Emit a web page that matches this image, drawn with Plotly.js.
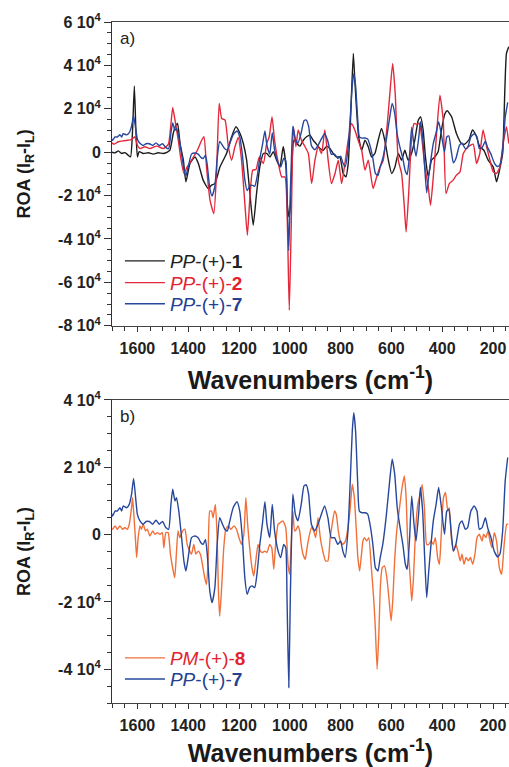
<!DOCTYPE html>
<html>
<head>
<meta charset="utf-8">
<script src="https://cdn.plot.ly/plotly-3.0.1.min.js"></script>
<style>html,body{margin:0;padding:0;background:#fff;}#chart{width:509px;height:767px;}</style>
</head>
<body>
<div id="chart"></div>
<script>
// ROA values in units of 10^4; wavenumbers in cm^-1
const pp1X = [1708,1688,1675,1662,1649,1636,1627,1619,1612,1606,1600,1593,1577,1557,1537,1518,1498,1482,1472,1459,1451,1442,1432,1419,1409,1393,1373,1360,1341,1321,1308,1295,1275,1249,1229,1212,1196,1183,1170,1157,1144,1131,1118,1104,1091,1078,1065,1052,1039,1026,1015,1009,1003,998,992,984,973,960,947,934,921,908,895,881,868,855,842,829,816,803,790,779,770,761,750,744,737,729,717,704,691,678,665,652,639,626,612,599,586,573,560,547,534,521,508,494,485,475,466,455,442,429,416,403,389,380,363,344,324,311,294,281,267,252,236,219,199,186,173,162,153,147,138];
const pp1Y = [0.02,-0.03,0.06,-0.06,-0.02,-0.14,-0.22,1.02,3.05,1.02,-0.22,0.02,-0.06,-0.03,-0.09,-0.03,-0.06,0,0.09,0.86,1.17,1.32,0.4,-0.37,-1.37,-0.52,-0.22,-0.52,-1.29,-1.68,-1.52,-1.45,-0.68,-0.06,0.71,1.17,0.86,0.4,-0.37,-1.91,-3.37,-1.91,-0.68,-0.06,-0.06,-0.22,0.02,-0.37,-0.68,0.25,-0.68,-2.52,-2.98,-2.52,-0.68,0.55,0.4,0.28,0.55,0.71,0.78,0.55,0.37,0.17,0.09,0.28,0.17,-0.06,-0.22,-0.22,-0.98,-1.14,-0.52,1.48,4.55,3.32,1.94,0.71,0.09,0.55,0.25,-0.22,-0.06,0.55,1.09,0.55,-0.37,-0.98,-0.68,-0.06,-0.37,0.09,-0.37,-0.06,0.55,1.48,1.63,1.02,-0.22,-1.14,-0.37,-0.22,0.02,1.02,1.78,1.91,1.63,0.86,0.4,0.37,0.58,1.02,0.78,0.25,0.09,-0.37,-0.68,-1.37,-0.75,-0.06,3.02,4.55,4.86];

const pp2X = [1708,1692,1675,1656,1636,1623,1610,1600,1590,1570,1551,1524,1498,1478,1469,1461,1452,1439,1430,1417,1404,1387,1364,1347,1338,1328,1314,1299,1288,1278,1268,1255,1242,1229,1216,1203,1190,1177,1167,1157,1146,1133,1120,1104,1091,1081,1070,1060,1045,1032,1019,1010,1002,994,986,976,967,954,940,927,914,901,888,875,862,849,836,822,809,796,783,770,757,744,731,717,704,691,672,658,645,632,616,606,595,585,573,560,550,542,532,521,511,501,490,481,468,455,446,435,422,409,396,385,372,357,344,330,317,298,278,265,252,239,225,212,199,186,173,160,147,138];
const pp2Y = [0.48,0.37,0.48,0.52,0.55,0.58,0.71,0.32,0.17,0.25,0.17,0.28,0.17,0.37,1.17,2.06,1.48,0.55,-0.22,-0.98,-0.68,-0.37,0.09,0.55,0.71,-0.68,-2.22,-2.83,-0.83,2.25,1.55,1.48,0.25,-0.37,0.25,0.68,-0.37,-2.37,-3.83,-2.06,-0.83,-0.8,-0.22,-0.52,0.4,0.71,1.63,0.55,-0.52,-1.14,-1.14,-3.14,-7.29,-3.14,1.17,0.25,1.02,0.55,0.25,-0.06,-1.45,-0.37,0.25,-0.06,1.02,-0.37,-1.45,-0.98,-0.37,-1.45,-0.52,0.55,1.32,1.02,0.55,0.09,-0.83,-0.37,-1.68,-1.14,-0.68,-0.37,1.32,2.71,4.09,2.71,-0.37,-0.98,-2.37,-3.68,-1.91,0.55,1.32,1.29,1.32,0.71,-0.68,-1.6,-2.45,-1.14,0.86,2.63,1.48,-1.91,-1.45,-1.29,-1.06,-0.91,-0.06,0.25,0.37,-0.52,-0.06,1.02,0.25,-0.37,-0.91,-0.98,-0.68,0.4,1.17,0.4];

const pp7X = [1708,1698,1688,1679,1669,1662,1656,1642,1632,1623,1615,1607,1600,1590,1577,1566,1553,1540,1527,1514,1501,1488,1477,1468,1461,1452,1446,1437,1426,1417,1409,1400,1387,1374,1361,1350,1341,1332,1325,1315,1306,1295,1286,1276,1265,1256,1246,1236,1223,1208,1197,1187,1177,1168,1158,1149,1138,1128,1118,1108,1098,1090,1079,1069,1060,1046,1036,1024,1016,1011,1004,998,993,988,978,968,955,944,935,926,915,902,889,876,863,850,837,824,811,800,791,782,771,762,754,748,741,733,726,715,702,693,682,673,663,653,644,634,621,608,597,587,577,568,555,545,538,529,520,511,503,492,486,477,469,461,453,444,435,424,414,403,391,382,374,365,356,346,332,322,309,300,287,274,263,254,243,230,221,208,195,182,173,162,152,142];
const pp7Y = [0.8,0.55,0.7,0.7,0.8,0.7,0.85,0.8,0.9,1.2,1.67,1.1,0.6,0.41,0.31,0.39,0.39,0.31,0.43,0.31,0.39,0.21,0.16,0.9,1.35,1.0,1.1,0.7,-0.09,-0.78,-1.08,-0.68,-0.09,-0.04,-0.09,-0.24,-0.29,-0.14,-0.58,-1.67,-2.02,-1.57,-0.29,0.5,0.31,0.16,0.11,0.41,0.8,0.98,0.7,-0.09,-1.28,-1.77,-1.57,-1.52,-1.57,-1.08,-0.29,0.31,0.98,0.31,-0.09,0.9,0.11,-0.49,-0.68,-0.29,-0.39,-1.87,-4.54,-1.87,-0.09,1.2,0.6,0.41,0.9,1.45,1.48,1.2,0.31,0.11,0.31,0.6,0.85,0.5,-0.09,-0.09,-0.29,-0.19,-0.49,-0.68,0.11,1.59,3.08,3.62,3.08,1.59,0.7,0.65,0.65,0.6,0.21,-0.29,-0.98,-1.08,-0.68,-0.29,0.5,1.5,2.24,1.79,0.8,0.31,-0.29,-0.88,-1.03,-0.19,1.15,0.31,-0.19,0.7,1.4,0.7,-0.68,-1.87,-1.08,-0.29,0.41,0.9,1.4,0.8,0.01,0.7,0.75,0.11,-0.49,-0.29,0.31,0.41,0.16,0.21,0.7,0.85,0.7,0.16,0.21,0.5,0.21,-0.09,-0.49,-0.66,-0.58,0.11,1.59,2.29];

const pm8X = [1708,1698,1688,1679,1669,1658,1649,1640,1632,1623,1619,1614,1608,1603,1597,1590,1584,1577,1568,1561,1551,1540,1531,1522,1511,1502,1496,1488,1479,1470,1459,1453,1446,1440,1433,1422,1413,1404,1394,1387,1378,1370,1361,1352,1344,1335,1328,1322,1315,1308,1302,1293,1286,1281,1276,1269,1260,1252,1243,1232,1220,1210,1200,1190,1181,1173,1166,1158,1149,1142,1134,1125,1116,1108,1099,1090,1079,1071,1063,1056,1046,1037,1027,1016,1007,1001,994,988,981,974,968,961,955,948,939,932,925,915,906,898,889,880,870,859,850,841,833,824,817,809,801,791,781,771,762,754,746,738,732,725,719,712,706,697,689,680,670,664,656,649,643,636,627,618,610,601,594,588,579,568,558,549,542,536,526,520,513,505,496,487,479,470,461,453,444,435,427,418,411,405,395,387,378,372,364,356,346,338,329,322,314,306,297,289,280,271,263,254,243,237,228,220,212,204,195,186,175,166,156,146,140];
const pm8Y = [0.21,0.16,0.26,0.16,0.26,0.16,0.21,0.16,0.31,0.8,1.1,0.6,-0.09,-0.68,-0.09,0.26,0.16,0.31,0.11,0.16,-0.04,0.11,0.01,0.06,0.01,0.06,-0.39,0.06,0.06,-0.58,-1.08,-1.28,-0.49,0.11,-0.09,0.11,0.16,-0.29,-0.49,-0.58,-0.29,-0.58,-0.49,-0.58,-0.88,-1.28,-1.48,-0.88,0.7,0.7,0.5,0.9,-0.09,-1.67,-2.42,-1.67,-0.39,0.16,0.26,0.16,0.26,0.16,-0.09,-0.29,0.01,1.1,0.31,-0.39,-0.98,-1.23,-0.78,-0.29,-0.49,-0.53,-0.49,-0.53,-0.29,-0.39,-1.03,-0.29,0.31,0.36,0.41,0.21,-0.88,-1.18,-0.19,0.7,0.11,0.16,0.26,0.11,-0.29,-0.58,-0.73,-0.39,-0.09,0.21,0.11,-0.09,0.5,-0.09,-0.49,-0.78,-0.78,-0.09,0.31,0.7,0.6,0.11,-0.19,-0.29,-0.19,0.21,0.8,1.5,1.1,0.11,-0.68,-1.08,-0.68,-0.19,-0.09,-0.19,-0.09,-0.88,-1.87,-2.66,-4.0,-2.86,-1.48,-0.98,-0.93,-1.28,-1.87,-2.56,-1.87,-0.88,0.11,0.8,1.4,1.74,1.1,-0.19,-1.28,-1.97,-1.28,0.11,0.9,1.2,1.48,0.8,-0.29,-0.29,-0.19,-0.29,-0.09,-0.68,-0.88,-0.19,1.1,1.25,0.7,0.8,-0.09,-0.49,-0.29,-0.49,-0.78,-0.58,-0.88,-0.68,-0.78,-0.68,-0.88,-0.58,-0.09,0.01,-0.19,0.01,-0.09,0.11,-0.19,-0.39,0.06,-0.19,-0.98,-1.18,-0.29,0.31,0.31];

const yTickValsA = [-8,-6,-4,-2,0,2,4,6];
const yTickTextA = ['-8 10<sup>4</sup>','-6 10<sup>4</sup>','-4 10<sup>4</sup>','-2 10<sup>4</sup>','0','2 10<sup>4</sup>','4 10<sup>4</sup>','6 10<sup>4</sup>'];
const yTickValsB = [-4,-2,0,2,4];
const yTickTextB = ['-4 10<sup>4</sup>','-2 10<sup>4</sup>','0','2 10<sup>4</sup>','4 10<sup>4</sup>'];

const names = {
  pp1: '<span style="color:#222222"><i>PP</i>-(+)-<b>1</b></span>',
  pp2: '<span style="color:#e2232f"><i>PP</i>-(+)-<b>2</b></span>',
  pp7: '<span style="color:#24408f"><i>PP</i>-(+)-<b>7</b></span>',
  pm8: '<span style="color:#e2232f"><i>PM</i>-(+)-<b>8</b></span>'
};
const C = {black:'#1c1c1c', red:'#e3283a', blue:'#26479d', orange:'#f1703a'};
const lw = 1.4;
function tr(x,y,name,color,xa,ya,lg){
  return {x:x,y:y,type:'scatter',mode:'lines',name:name,xaxis:xa,yaxis:ya,legend:lg,
    line:{color:color,width:lw,shape:'spline',smoothing:0.5},hoverinfo:'skip'};
}
const data = [
  tr(pp1X,pp1Y,names.pp1,C.black,'x2','y2','legend'),
  tr(pp2X,pp2Y,names.pp2,C.red,'x2','y2','legend2'),
  tr(pp7X,pp7Y,names.pp7,C.blue,'x2','y2','legend3'),
  tr(pm8X,pm8Y,names.pm8,C.orange,'x','y','legend4'),
  tr(pp7X,pp7Y,names.pp7,C.blue,'x','y','legend5')
];
const FF = 'Liberation Sans, Arial, Helvetica, sans-serif';
const tickFont = {family:FF,size:16,color:'#222',weight:'bold'};
function xax(anchor){
  return {anchor:anchor,range:[1700,137],tickmode:'linear',tick0:0,dtick:200,
    ticks:'outside',ticklen:5,tickwidth:1,tickcolor:'#333',showline:true,mirror:true,linecolor:'#444',linewidth:1,
    showgrid:false,zeroline:false,tickfont:tickFont,ticklabelstandoff:3,
    minor:{tick0:0,dtick:50,ticks:'outside',ticklen:4,tickcolor:'#333',showgrid:false},
    title:{text:'Wavenumbers (cm<sup>-1</sup>)',font:{family:FF,size:25,color:'#1a1a1a',weight:'bold'},standoff:15}};
}
function yax(anchor,domain,range,vals,text){
  return {anchor:anchor,domain:domain,range:range,tickmode:'array',tickvals:vals,ticktext:text,
    ticks:'outside',ticklen:7,tickwidth:1,tickcolor:'#333',showline:true,linecolor:'#333',linewidth:1,
    showgrid:false,zeroline:false,tickfont:tickFont,
    minor:{tickmode:'linear',tick0:0,dtick:0.5,ticks:'outside',ticklen:4,tickcolor:'#333',showgrid:false},
    title:{text:'ROA (I<sub>R</sub>-I<sub>L</sub>)',font:{family:FF,size:18,color:'#1a1a1a',weight:'bold'},standoff:22}};
}
const legFont = {family:FF,size:19,color:'#222'};
function leg(y){
  return {x:0.02,y:y,xanchor:'left',yanchor:'middle',bgcolor:'rgba(0,0,0,0)',borderwidth:0,font:legFont,itemwidth:40};
}
const layout = {
  width:509,height:767,margin:{l:112,r:0,t:22,b:64},
  paper_bgcolor:'#fff',plot_bgcolor:'#fff',showlegend:true,
  xaxis:xax('y'),
  yaxis:yax('x',[0,0.445],[-5,4],yTickValsB,yTickTextB),
  xaxis2:xax('y2'),
  yaxis2:yax('x2',[0.554,1],[-8,6],yTickValsA,yTickTextA),
  legend:leg(0.649),
  legend2:leg(0.617),
  legend3:leg(0.586),
  legend4:leg(0.066),
  legend5:leg(0.035),
  annotations:[
    {text:'a)',xref:'x2 domain',yref:'y2 domain',x:0.016,y:0.945,xanchor:'left',yanchor:'middle',showarrow:false,font:{family:FF,size:17,color:'#222'}},
    {text:'b)',xref:'x domain',yref:'y domain',x:0.016,y:0.945,xanchor:'left',yanchor:'middle',showarrow:false,font:{family:FF,size:17,color:'#222'}}
  ]
};
Plotly.newPlot('chart',data,layout,{staticPlot:true,displayModeBar:false});
</script>
</body>
</html>
